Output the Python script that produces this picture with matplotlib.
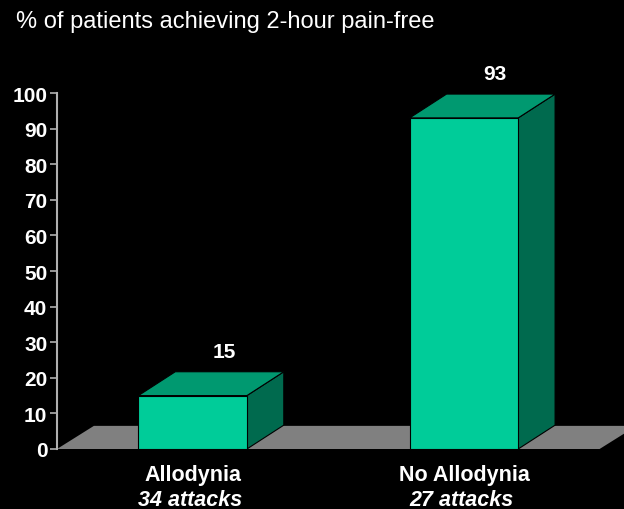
import matplotlib
matplotlib.use("Agg")
import matplotlib.pyplot as plt
from matplotlib.patches import Polygon

plt.rcParams['font.family'] = ['Liberation Sans', 'DejaVu Sans']

title = "% of patients achieving 2-hour pain-free"
categories = ["Allodynia", "No Allodynia"]
subtitles = ["34 attacks", "27 attacks"]
values = [15, 93]
y_ticks = list(range(0, 101, 10))

FRONT = "#00CC99"
TOP = "#009970"
SIDE = "#006A4E"
FLOOR = "#808080"

# 3D look parameters (data units)
width = 0.4
dx, dy = 0.136, 6.7


def box(ax, x0, x1, h):
    # side, top, front
    ax.add_patch(Polygon([(x1, 0), (x1 + dx, dy), (x1 + dx, h + dy), (x1, h)],
                         closed=True, fc=SIDE, ec="black", lw=0.8, clip_on=False, zorder=3))
    ax.add_patch(Polygon([(x0, h), (x0 + dx, h + dy), (x1 + dx, h + dy), (x1, h)],
                         closed=True, fc=TOP, ec="black", lw=0.8, clip_on=False, zorder=3))
    ax.add_patch(Polygon([(x0, 0), (x0, h), (x1, h), (x1, 0)],
                         closed=True, fc=FRONT, ec="black", lw=0.8, clip_on=False, zorder=4))


fig = plt.figure(figsize=(6.24, 5.10), dpi=100)
fig.patch.set_facecolor("black")
ax = fig.add_axes([57 / 624, 60 / 510, 567 / 624, 356 / 510])
ax.set_facecolor("black")
ax.set_xlim(-0.5, 1.59)
ax.set_ylim(0, 100)

n = len(categories)
# floor
fx0, fx1 = -0.5, n - 0.5
ax.add_patch(Polygon([(fx0, 0), (fx0 + dx, dy * 0.97), (fx1 + dx, dy * 0.97), (fx1, 0)],
                     closed=True, fc=FLOOR, ec="none", clip_on=False, zorder=2))

for i, v in enumerate(values):
    box(ax, i - width / 2, i + width / 2, v)
    ax.annotate(str(v), xy=(i + dx * 0.85, v + dy), xytext=(0, 8),
                textcoords="offset points", ha="center", va="bottom",
                color="white", fontsize=15, fontweight="bold", zorder=5)
    ax.annotate(categories[i], xy=(i, 0), xycoords="data", xytext=(0, -11),
                textcoords="offset points", ha="center", va="top",
                color="white", fontsize=15.5, fontweight="bold")
    ax.annotate(subtitles[i], xy=(i, 0), xycoords="data", xytext=(-2, -29),
                textcoords="offset points", ha="center", va="top",
                color="white", fontsize=15.5, fontweight="bold", fontstyle="italic")

ax.set_xticks([])
ax.set_yticks(y_ticks)
ax.set_yticklabels([str(t) for t in y_ticks])
ax.tick_params(axis="y", colors="#B0B0B0", length=5, width=1.2, pad=2,
               labelcolor="white", labelsize=15)
for lab in ax.get_yticklabels():
    lab.set_fontweight("bold")
for s in ["top", "right", "bottom"]:
    ax.spines[s].set_visible(False)
ax.spines["left"].set_color("#B0B0B0")
ax.spines["left"].set_linewidth(1.5)

fig.text(16 / 624, 1 - 22 / 510, title, color="white", fontsize=17,
         ha="left", va="center")

fig.savefig("out.png", dpi=100, facecolor="black")
